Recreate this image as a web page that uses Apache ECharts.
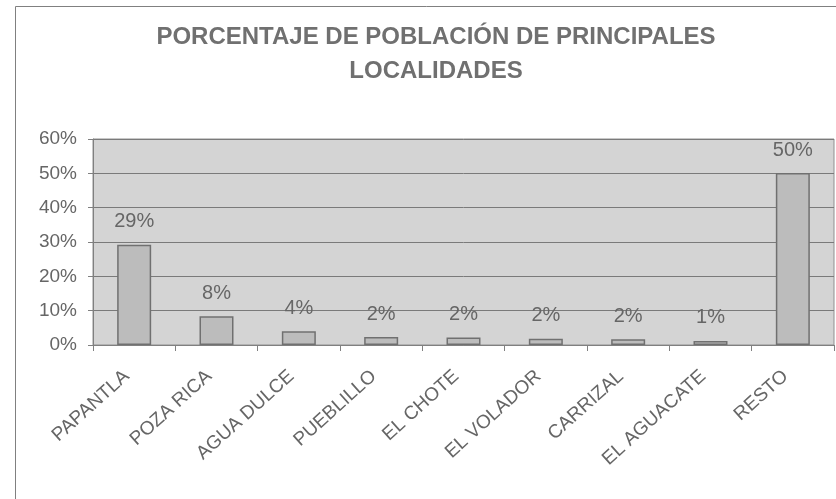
<!DOCTYPE html>
<html>
<head>
<meta charset="utf-8">
<script src="https://cdn.jsdelivr.net/npm/echarts@6/dist/echarts.min.js"></script>
<style>
  html, body { margin: 0; padding: 0; background: #fff; }
  #main { width: 836px; height: 499px; }
</style>
</head>
<body>
<div id="main"></div>
<script>
// localidades y porcentajes
const localidades = ['PAPANTLA', 'POZA RICA', 'AGUA DULCE', 'PUEBLILLO', 'EL CHOTE', 'EL VOLADOR', 'CARRIZAL', 'EL AGUACATE', 'RESTO']
const porcentajes = [29.2, 8.4, 4.0, 2.3, 2.2, 1.8, 1.7, 1.2, 50.1]
const etiquetas = ['29%', '8%', '4%', '2%', '2%', '2%', '2%', '1%', '50%']

const chart = echarts.init(document.getElementById('main'))

const option = {
    animation: false,
    textStyle: { fontFamily: 'Liberation Sans, Arial, sans-serif' },
    title: {
        text: 'PORCENTAJE DE POBLACIÓN DE PRINCIPALES\nLOCALIDADES',
        left: 431,
        textAlign: 'center',
        top: 15,
        textStyle: {
            fontSize: 24,
            fontWeight: 'bold',
            color: '#707070',
            lineHeight: 34
        }
    },
    graphic: [
        {
            type: 'rect',
            shape: { x: 15.5, y: 6.5, width: 840, height: 510 },
            style: { fill: 'none', stroke: '#808080', lineWidth: 1 },
            silent: true
        }
    ],
    grid: {
        left: 93,
        right: 2,
        top: 139,
        bottom: 154,
        show: true,
        backgroundColor: '#D4D4D4',
        borderColor: '#909090',
        borderWidth: 1
    },
    xAxis: {
        type: 'category',
        data: localidades,
        axisLine: { lineStyle: { color: '#808080' } },
        axisTick: { show: true, length: 6, lineStyle: { color: '#808080' } },
        axisLabel: {
            rotate: 42,
            interval: 0,
            fontSize: 19,
            color: '#666666',
            margin: 22,
            padding: [0, 10, 0, 0]
        }
    },
    yAxis: {
        type: 'value',
        min: 0,
        max: 60,
        interval: 10,
        axisLine: { show: true, lineStyle: { color: '#808080' } },
        axisTick: { show: true, length: 5, lineStyle: { color: '#808080' } },
        splitLine: { lineStyle: { color: '#7A7A7A' } },
        axisLabel: {
            fontSize: 19,
            color: '#666666',
            margin: 16,
            formatter: v => v + '%'
        }
    },
    series: [
        {
            type: 'bar',
            data: porcentajes,
            barWidth: 34,
            itemStyle: {
                color: '#BCBCBC',
                borderColor: '#707070',
                borderWidth: 1.5
            },
            label: {
                show: true,
                position: 'top',
                distance: 13,
                fontSize: 20,
                color: '#666666',
                formatter: p => etiquetas[p.dataIndex]
            }
        }
    ]
}

chart.setOption(option)
</script>
</body>
</html>
